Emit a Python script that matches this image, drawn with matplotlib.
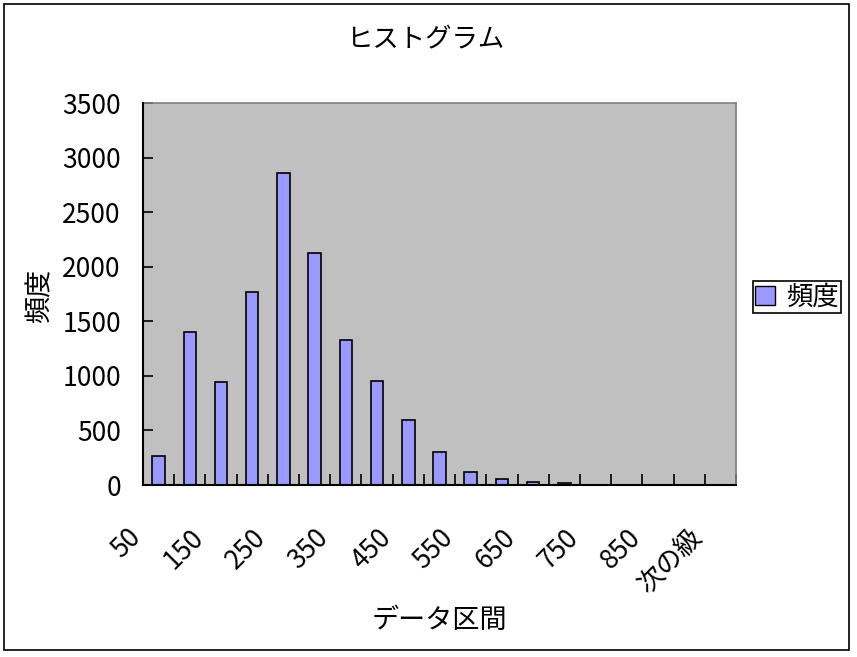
import matplotlib
matplotlib.use("Agg")
import matplotlib.pyplot as plt
from matplotlib.patches import Rectangle
from matplotlib.transforms import ScaledTranslation

plt.rcParams['font.family'] = ['Noto Sans CJK JP', 'DejaVu Sans']

categories = ['50', '100', '150', '200', '250', '300', '350', '400', '450', '500',
              '550', '600', '650', '700', '750', '800', '850', '900', '次の級']
counts = [264, 1401, 948, 1770, 2856, 2126, 1331, 957, 600, 300,
          121, 55, 27, 18, 0, 0, 0, 0, 0]
yticks = [0, 500, 1000, 1500, 2000, 2500, 3000, 3500]

title = 'ヒストグラム'
xlabel = 'データ区間'
ylabel = '頻度'
series_name = '頻度'

W, H = 857, 657
fig = plt.figure(figsize=(W / 100, H / 100), dpi=100)
fig.patch.set_facecolor('white')

# outer chart border
fig.patches.append(Rectangle((4 / W, (H - 650) / H), 845 / W, 646 / H,
                             transform=fig.transFigure, fill=False,
                             edgecolor='black', linewidth=1.2))

ax = fig.add_axes([143 / W, 1 - 485 / H, (736 - 143) / W, (485 - 103) / H])
ax.set_facecolor('#C0C0C0')

x = list(range(len(categories)))
ax.bar(x, counts, width=0.4, color='#9999FF', edgecolor='black', linewidth=1.2,
       label=series_name, zorder=3)

ax.set_xlim(-0.5, len(categories) - 0.5)
ax.set_ylim(0, 3500)

# spines
for s in ['top', 'right']:
    ax.spines[s].set_color('#808080')
    ax.spines[s].set_linewidth(1.2)
for s in ['left', 'bottom']:
    ax.spines[s].set_color('black')
    ax.spines[s].set_linewidth(1.5)
    ax.spines[s].set_zorder(5)

# y ticks
ax.set_yticks(yticks)
ax.set_yticklabels([str(v) for v in yticks])
ax.tick_params(axis='y', direction='in', length=7, width=1.2, pad=16,
               labelsize=19)

# x ticks: boundaries as minor ticks, labels at centers
ax.set_xticks([i - 0.5 for i in range(len(categories) + 1)], minor=True)
label_idx = [i for i in range(len(categories)) if i % 2 == 0 and i < len(categories) - 1] + [len(categories) - 1]
ax.set_xticks(label_idx)
ax.set_xticklabels([categories[i] for i in label_idx], rotation=45,
                   ha='right', va='top')
ax.tick_params(axis='x', which='minor', direction='in', length=8, width=1.2)
ax.tick_params(axis='x', which='major', length=0, pad=28, labelsize=19)
off = ScaledTranslation(-12 / 100, 0, fig.dpi_scale_trans)
for lab in ax.get_xticklabels():
    lab.set_transform(lab.get_transform() + off)

fig.text(425 / W, 1 - 40 / H, title, ha='center', va='center', fontsize=19)
fig.text(440 / W, 1 - 620 / H, xlabel, ha='center', va='center', fontsize=19.5)
fig.text(40 / W, 1 - 296 / H, ylabel, ha='center', va='center', fontsize=19.5,
         rotation=90)

leg = ax.legend(loc='center', bbox_to_anchor=(797 / W, 1 - 297 / H),
                bbox_transform=fig.transFigure, fontsize=19, frameon=True,
                fancybox=False, edgecolor='black', framealpha=1,
                handlelength=0.75, handleheight=0.75, handletextpad=0.4,
                borderpad=0.1, borderaxespad=0)
leg.get_frame().set_linewidth(1.2)
for h in leg.legend_handles:
    h.set_linewidth(1.0)

fig.savefig('out.png', dpi=100)
